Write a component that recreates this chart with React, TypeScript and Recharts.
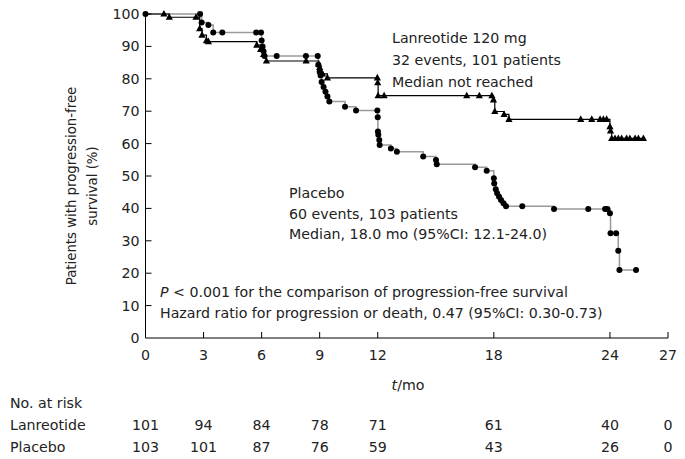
import { ComposedChart, Line, XAxis, YAxis } from 'recharts';

// Kaplan-Meier step points (months, % progression-free)
const lanTime = [0, 0.95, 1.23, 2.61, 2.8, 2.92, 3.15, 3.25, 5.75, 5.95, 6.1, 6.25, 8.3, 8.95, 9.0, 9.05, 9.15, 9.4,
  11.98, 12.0, 12.02, 12.33, 16.6, 17.25, 17.9, 17.98, 18.05, 18.53, 18.78, 22.49, 23.06, 23.49, 23.66, 23.83,
  24.0, 24.03, 24.09, 24.26, 24.43, 24.6, 24.86, 25.03, 25.3, 25.47, 25.73];
const lanSurv = [100, 100, 99, 99, 95.5, 93.5, 91.8, 91.5, 90.4, 89.1, 87.5, 85.5, 85.5, 84.5, 83.5, 82.2, 81.5, 80.3,
  80.3, 78.8, 74.8, 74.8, 74.8, 74.8, 74.8, 73.5, 69.9, 69, 67.5, 67.5, 67.5, 67.5, 67.5, 67.5,
  65.2, 63.9, 61.6, 61.6, 61.6, 61.6, 61.6, 61.6, 61.6, 61.6, 61.6];

const plaTime = [0, 2.82, 2.9, 3.25, 3.5, 3.97, 5.72, 5.97, 6.0, 6.05, 6.1, 6.15, 6.78, 8.29, 8.9, 8.93, 9.0, 9.05,
  9.1, 9.2, 9.3, 9.4, 9.5, 10.31, 10.88, 11.98, 12.0, 12.01, 12.03, 12.08, 12.1, 12.68, 12.99, 14.35, 15.01, 15.05,
  17.03, 17.63, 18.0, 18.02, 18.1, 18.17, 18.27, 18.37, 18.5, 18.63, 19.47, 21.11, 22.88, 23.75, 23.87,
  24.0, 24.03, 24.32, 24.43, 24.49, 25.35];
const plaSurv = [100, 100, 97.4, 96.6, 94.3, 94.3, 94.3, 94.3, 91.8, 90, 88.5, 87, 87, 87, 87, 84.3, 82.2, 81,
  79, 77.5, 76, 74.5, 73, 71.4, 70.2, 70.2, 68.1, 63.7, 62.7, 61.1, 59.6, 58.5, 57.5, 56, 54.9, 53.6,
  52.7, 51.6, 49.3, 47.7, 45.9, 44.7, 43.6, 42.6, 41.6, 40.7, 40.7, 39.8, 39.8, 39.8, 39.8,
  38.5, 32.3, 32.3, 26.9, 21, 21];

const xTicks = [0, 3, 6, 9, 12, 18, 24, 27];
const yTicks = [0, 10, 20, 30, 40, 50, 60, 70, 80, 90, 100];
const riskLan = [101, 94, 84, 78, 71, 61, 40, 0];
const riskPla = [103, 101, 87, 76, 59, 43, 26, 0];

const lanData = lanTime.map((t, i) => ({ t, s: lanSurv[i] }));
const plaData = plaTime.map((t, i) => ({ t, s: plaSurv[i] }));

const FONT = '"DejaVu Sans", Verdana, sans-serif';
const INK = '#222';
const FS = 14.2;

function XTick({ x, y, payload }: any) {
  const i = xTicks.indexOf(payload.value);
  return (
    <g fontFamily={FONT} fontSize={FS} fill={INK} textAnchor="middle">
      {payload.value !== 0 && <line x1={x} x2={x} y1={y} y2={y - 6} stroke="#000" />}
      <text x={x} y={y + 22}>{payload.value}</text>
      <text x={x} y={y + 92}>{riskLan[i]}</text>
      <text x={x} y={y + 114}>{riskPla[i]}</text>
    </g>
  );
}

function YTick({ x, y, payload }: any) {
  return (
    <g fontFamily={FONT} fontSize={FS} fill={INK}>
      {payload.value !== 0 && <line x1={x} x2={x + 6} y1={y} y2={y} stroke="#000" />}
      <text x={x - 6} y={y + 5} textAnchor="end">{payload.value}</text>
    </g>
  );
}

function TriDot({ cx, cy, index }: any) {
  if (index === 0 || cx == null) return <g />;
  return <path d={`M${cx},${cy - 4}L${cx + 3.6},${cy + 2.6}L${cx - 3.6},${cy + 2.6}Z`} fill="#000" />;
}

function CircleDot({ cx, cy }: any) {
  if (cx == null) return <g />;
  return <circle cx={cx} cy={cy} r={3} fill="#000" />;
}

export default function App() {
  return (
    <div style={{ position: 'absolute', left: 0, top: 0, width: 685, height: 459, background: '#fff' }}>
      <ComposedChart width={685} height={459} margin={{ top: 14, right: 17, bottom: 91, left: 100 }}>
        <XAxis
          type="number" dataKey="t" domain={[0, 27]} ticks={xTicks} interval={0}
          height={30} tickSize={0} tickMargin={0} tickLine={false}
          axisLine={{ stroke: '#000' }} tick={<XTick />}
        />
        <YAxis
          type="number" domain={[0, 100]} ticks={yTicks} interval={0}
          width={45.5} tickSize={0} tickMargin={0} tickLine={false}
          axisLine={{ stroke: '#000' }} tick={<YTick />}
        />
        <Line data={plaData} dataKey="s" type="stepAfter" stroke="#9a9a9a" strokeWidth={1.5}
          dot={(p: any) => <CircleDot key={`p${p.index}`} {...p} />} isAnimationActive={false} />
        <Line data={lanData} dataKey="s" type="stepAfter" stroke="#000" strokeWidth={1.2}
          dot={(p: any) => <TriDot key={`l${p.index}`} {...p} />} isAnimationActive={false} />
      </ComposedChart>

      <svg width={685} height={459} style={{ position: 'absolute', left: 0, top: 0, pointerEvents: 'none' }}
        fontFamily={FONT} fontSize={FS} fill={INK}>
        <g fontSize={13.3}>
          <text transform="translate(76,186) rotate(-90)" textAnchor="middle">Patients with progression-free</text>
          <text transform="translate(97,186) rotate(-90)" textAnchor="middle">survival (%)</text>
        </g>

        <text x={392} y={43}>Lanreotide 120 mg</text>
        <text x={392} y={65}>32 events, 101 patients</text>
        <text x={392} y={87}>Median not reached</text>

        <text x={289} y={198}>Placebo</text>
        <text x={289} y={219}>60 events, 103 patients</text>
        <text x={289} y={239}>Median, 18.0 mo (95%CI: 12.1-24.0)</text>

        <text x={160} y={297}><tspan fontStyle="italic">P</tspan> &lt; 0.001 for the comparison of progression-free survival</text>
        <text x={160} y={318}>Hazard ratio for progression or death, 0.47 (95%CI: 0.30-0.73)</text>

        <text x={408} y={390} textAnchor="middle"><tspan fontStyle="italic">t</tspan>/mo</text>
        <text x={10} y={408}>No. at risk</text>
        <text x={10} y={430}>Lanreotide</text>
        <text x={10} y={452}>Placebo</text>
      </svg>
    </div>
  );
}
